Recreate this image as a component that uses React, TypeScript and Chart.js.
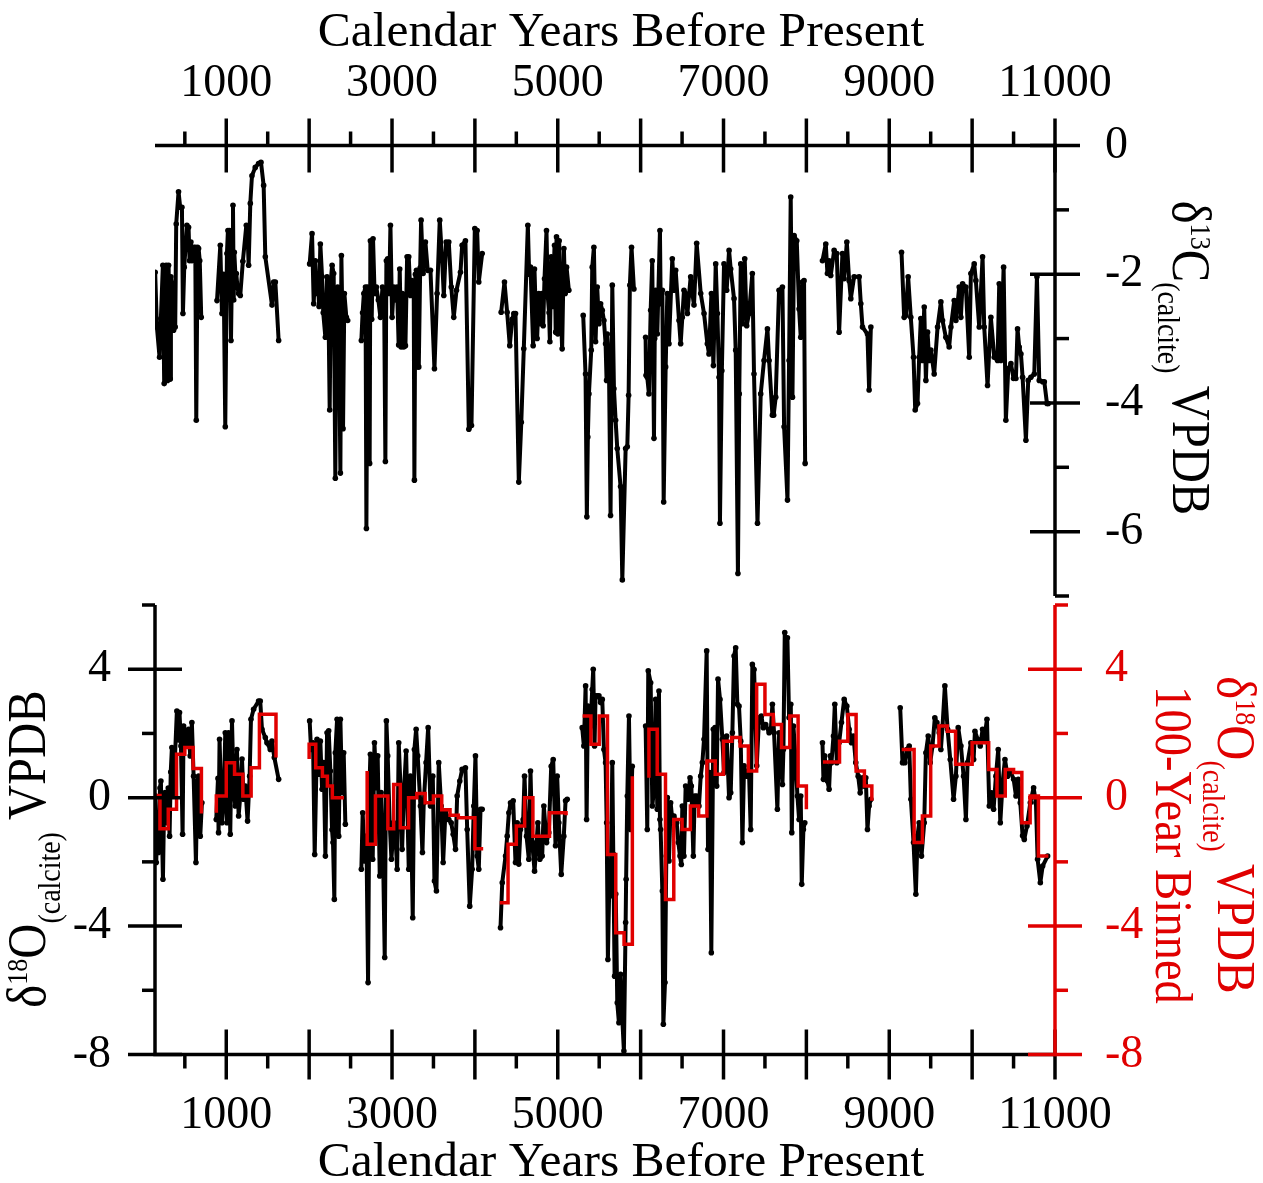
import React, { useEffect, useRef } from 'react';
import { Chart, registerables } from 'chart.js';

Chart.register(...registerables);

const W = 1263;
const H = 1183;
const FONT = '"Liberation Serif", "Times New Roman", serif';
const BLACK = '#000000';
const RED = '#e00000';

type Pt = [number, number];

// ---------- axes / ticks ----------
const X_MIN = 140;
const X_MAX = 11000;
const X_LABELS = [1000, 3000, 5000, 7000, 9000, 11000];
const X_MAJOR = [1000, 2000, 3000, 4000, 5000, 6000, 7000, 8000, 9000, 10000, 11000];
const X_MINOR = [500, 1500, 2500, 3500, 4500, 5500, 6500, 7500, 8500, 9500, 10500];
const C13_LABELS = [0, -2, -4, -6];
const C13_MINOR = [-1, -3, -5, -7];
const O18_LABELS = [4, 0, -4, -8];
const O18_MINOR = [6, 2, -2, -6];

// ---------- δ13C (top panel) ----------
const c13SegA: Pt[] = [[142,-1.97],[163,-2.82],[195,-3.29],[211,-2.69],[235,-1.86],[251,-3.70],[275,-1.86],[291,-3.65],[304,-1.86],[324,-3.63],[332,-2.04],[352,-2.20],[364,-2.87],[384,-2.82],[396,-1.22],[424,-0.72],[444,-0.96],[465,-0.96],[477,-2.61],[493,-1.89],[525,-1.24],[545,-1.27],[557,-1.79],[573,-1.50],[586,-1.79],[605,-1.58],[626,-1.58],[638,-4.27],[654,-1.58],[666,-1.60],[680,-1.79],[698,-2.67]];
const c13SegB: Pt[] = [[888,-2.41],[928,-1.55],[948,-2.61],[968,-2.0],[988,-4.37],[1008,-1.68],[1020,-1.32],[1030,-2.2],[1040,-1.32],[1057,-3.03],[1070,-1.8],[1081,-0.93],[1090,-2.4],[1097,-1.66],[1110,-2.0],[1121,-1.99],[1135,-2.2],[1149,-2.30],[1169,-2.33],[1200,-1.8],[1242,-1.24],[1255,-1.3],[1270,-1.86],[1290,-0.9],[1310,-0.47],[1350,-0.34],[1390,-0.28],[1419,-0.26],[1451,-0.62],[1471,-1.73],[1552,-2.48],[1572,-2.12],[1592,-2.12],[1632,-3.03]];
const c13SegC: Pt[] = [[2006,-1.84],[2035,-1.37],[2055,-2.46],[2075,-1.79],[2090,-2.3],[2103,-2.04],[2120,-2.5],[2135,-1.53],[2156,-2.04],[2170,-2.6],[2196,-2.98],[2216,-2.04],[2230,-2.2],[2248,-4.11],[2262,-2.1],[2277,-1.86],[2296,-1.99],[2316,-5.17],[2330,-2.4],[2344,-2.2],[2360,-2.8],[2377,-5.09],[2389,-1.71],[2400,-2.6],[2409,-4.40],[2425,-2.30],[2449,-2.67],[2465,-2.72]];
const c13SegD: Pt[] = [[2630,-3.03],[2645,-2.6],[2660,-2.3],[2680,-2.2],[2691,-5.95],[2705,-2.2],[2715,-2.5],[2730,-4.94],[2739,-1.48],[2755,-2.7],[2771,-1.45],[2790,-2.3],[2811,-2.20],[2835,-2.4],[2860,-2.67],[2885,-2.2],[2905,-2.4],[2920,-4.91],[2932,-1.79],[2948,-1.76],[2965,-2.3],[2981,-1.24],[3001,-2.67],[3021,-2.20],[3040,-2.4],[3061,-2.20],[3080,-3.1],[3093,-1.92],[3110,-3.13],[3125,-2.3],[3141,-3.13],[3162,-3.11],[3182,-1.73],[3202,-1.73],[3222,-2.33],[3240,-2.1],[3262,-2.25],[3270,-5.20],[3282,-2.0],[3295,-1.94],[3310,-3.44],[3323,-3.44],[3340,-1.9],[3351,-1.16],[3375,-1.99],[3403,-1.50],[3431,-1.94],[3464,-1.94],[3512,-3.47],[3544,-2.30],[3576,-1.16],[3605,-1.79],[3625,-2.33],[3653,-1.50],[3685,-1.50],[3715,-2.2],[3745,-2.67],[3778,-2.25],[3826,-1.97],[3846,-1.55],[3886,-1.48],[3927,-4.41],[3959,-4.35],[3999,-1.29],[4027,-1.32],[4047,-2.12],[4088,-1.68]];
const c13SegE: Pt[] = [[4317,-2.59],[4357,-2.12],[4389,-2.59],[4421,-3.11],[4450,-2.7],[4470,-2.61],[4490,-2.61],[4530,-5.23],[4560,-4.3],[4590,-3.16],[4639,-1.24],[4655,-2.0],[4671,-1.89],[4703,-3.11],[4719,-1.92],[4735,-2.6],[4751,-3.0],[4771,-2.30],[4792,-2.77],[4810,-2.3],[4824,-2.80],[4840,-2.07],[4864,-1.32],[4880,-2.35],[4895,-2.6],[4905,-3.05],[4921,-1.73],[4940,-2.5],[4961,-1.55],[4975,-2.9],[4985,-1.42],[5001,-2.93],[5017,-1.48],[5035,-2.5],[5053,-3.16],[5074,-1.60],[5090,-2.3],[5106,-1.89],[5134,-2.25]];
const c13SegF: Pt[] = [[5307,-2.64],[5335,-3.55],[5351,-5.77],[5363,-4.53],[5376,-3.86],[5404,-3.18],[5416,-1.89],[5436,-1.58],[5456,-3.05],[5476,-2.20],[5497,-2.77],[5517,-2.46],[5537,-2.56],[5557,-2.72],[5577,-3.08],[5589,-3.65],[5597,-2.93],[5617,-3.34],[5637,-5.75],[5658,-2.17],[5678,-3.78],[5698,-4.27],[5718,-4.71],[5758,-5.3],[5779,-6.75],[5819,-4.71],[5839,-4.68],[5855,-3.88],[5870,-2.17],[5890,-1.58],[5919,-2.23]];
const c13SegG: Pt[] = [[6060,-2.98],[6065,-3.57],[6080,-3.6],[6100,-3.86],[6121,-2.56],[6140,-1.79],[6161,-4.55],[6170,-3.0],[6181,-2.25],[6201,-2.93],[6233,-1.32],[6242,-2.46],[6262,-2.25],[6278,-5.54],[6302,-3.44],[6322,-2.30],[6342,-3.08],[6382,-1.76],[6402,-2.25],[6423,-1.94],[6463,-2.72],[6483,-3.08],[6503,-2.67],[6523,-2.25],[6543,-2.30],[6564,-2.61],[6604,-2.04],[6624,-2.30],[6644,-2.48],[6676,-1.52],[6725,-2.30],[6765,-2.61],[6805,-3.08],[6825,-3.24],[6854,-2.30],[6878,-3.42],[6906,-1.84],[6926,-2.61],[6946,-3.60],[6957,-5.87],[6980,-3.5],[7006,-1.84],[7038,-2.25],[7067,-1.63],[7087,-1.92],[7127,-2.38],[7147,-3.18],[7174,-6.65],[7190,-3.86],[7208,-1.84],[7228,-2.77],[7256,-1.76],[7280,-2.80],[7308,-2.61],[7348,-1.99],[7368,-3.55],[7410,-5.87],[7449,-3.86],[7489,-3.34],[7530,-2.85],[7550,-3.34],[7590,-4.19],[7605,-4.19],[7630,-3.91],[7670,-2.25],[7711,-2.20],[7731,-4.37],[7772,-5.51],[7791,-3.34],[7811,-0.80],[7832,-3.91],[7852,-1.40],[7884,-1.48],[7912,-2.54],[7932,-2.98],[7952,-2.12],[7972,-2.10],[7985,-4.94]];
const c13SegH: Pt[] = [[8194,-1.79],[8234,-1.53],[8254,-1.99],[8274,-1.79],[8294,-2.02],[8335,-1.63],[8367,-1.68],[8395,-2.90],[8435,-1.68],[8455,-2.07],[8488,-1.50],[8516,-2.10],[8536,-2.38],[8576,-2.04],[8637,-2.04],[8657,-2.46],[8677,-2.82],[8737,-2.93],[8757,-3.80],[8778,-2.82]];
const c13SegI: Pt[] = [[9148,-1.66],[9180,-2.67],[9200,-2.64],[9228,-2.04],[9260,-2.67],[9293,-3.29],[9313,-4.11],[9341,-4.01],[9361,-3.29],[9381,-2.69],[9402,-3.34],[9422,-2.51],[9442,-3.65],[9462,-2.90],[9482,-3.34],[9502,-3.18],[9542,-3.55],[9583,-2.82],[9623,-2.43],[9643,-2.72],[9683,-2.98],[9723,-3.13],[9744,-2.82],[9784,-2.41],[9804,-2.72],[9844,-2.20],[9864,-2.67],[9885,-2.15],[9925,-2.20],[9965,-3.29],[9985,-1.99],[10025,-1.84],[10045,-2.10],[10086,-2.82],[10126,-1.73],[10146,-2.82],[10186,-3.73],[10226,-2.67],[10267,-3.29],[10307,-3.34],[10327,-2.15],[10347,-3.34],[10380,-1.89],[10407,-4.27],[10436,-3.47],[10468,-3.39],[10500,-3.62],[10528,-3.62],[10548,-2.85],[10568,-3.13],[10589,-3.24],[10609,-3.60],[10649,-4.58],[10677,-3.65],[10709,-3.60],[10750,-3.55],[10782,-2.04],[10810,-3.65],[10851,-3.67],[10871,-3.67],[10903,-4.01],[10919,-4.01]];

// ---------- δ18O (bottom panel, black) ----------
const o18SegA: Pt[] = [[143,0.05],[155,-2.02],[170,-0.5],[183,-1.71],[200,0.3],[211,0.52],[236,-2.54],[250,-0.2],[263,0.16],[284,-0.78],[300,0.3],[316,-1.20],[330,0.8],[344,1.56],[364,0.05],[380,1.2],[404,2.70],[420,1.8],[436,2.65],[453,1.61],[473,-1.14],[485,2.23],[505,2.02],[525,1.61],[545,2.13],[565,1.30],[585,2.34],[606,0.67],[634,-2.02],[650,0.5],[666,0.67],[686,-1.20],[706,-0.16]];
const o18SegB: Pt[] = [[879,-0.68],[900,0.6],[907,-1.09],[919,1.82],[935,0.3],[948,-0.78],[968,-0.16],[988,2.02],[1000,0.5],[1008,-0.78],[1028,2.02],[1040,0.8],[1048,-1.14],[1069,2.39],[1089,0.26],[1109,-0.26],[1129,1.50],[1149,-0.57],[1169,0.05],[1190,1.2],[1209,-0.05],[1229,0.36],[1257,-0.73],[1282,0.67],[1298,2.44],[1330,2.75],[1390,3.01],[1410,3.01],[1431,2.13],[1471,1.87],[1491,1.71],[1531,1.50],[1551,1.76],[1580,1.25],[1632,0.57]];
const o18SegC: Pt[] = [[2006,2.39],[2023,1.50],[2047,1.71],[2067,-1.77],[2095,1.82],[2115,0.73],[2135,1.76],[2156,0.26],[2176,1.09],[2196,-1.82],[2216,2.02],[2236,2.08],[2256,0.83],[2276,-1.0],[2288,-1.40],[2304,-3.17],[2316,1.40],[2337,2.44],[2357,-1.2],[2377,2.44],[2397,0.16],[2417,1.40],[2437,-0.83]];
const o18SegD: Pt[] = [[2630,-2.23],[2646,-0.47],[2670,-1.97],[2691,-1.20],[2711,-5.76],[2727,0.26],[2739,1.35],[2767,-1.92],[2788,1.71],[2811,0.31],[2827,1.30],[2852,-2.44],[2868,0.16],[2892,-1.82],[2912,-4.98],[2932,2.39],[2948,1.30],[2972,-0.78],[2993,-1.92],[3021,-0.78],[3041,-1.20],[3062,-2.23],[3081,1.71],[3102,0.36],[3122,-1.61],[3141,0.05],[3170,1.45],[3202,-2.23],[3222,0.67],[3250,-3.74],[3270,1.50],[3291,2.13],[3310,1.30],[3343,-0.26],[3367,-1.71],[3383,-0.16],[3411,1.09],[3436,2.18],[3464,-0.26],[3492,0.67],[3512,-2.60],[3536,-2.91],[3564,1.09],[3593,-0.26],[3617,-2.02],[3645,-0.42],[3685,-0.68],[3714,-0.78],[3738,-1.14],[3766,-1.61],[3786,0.05],[3818,0.52],[3846,0.88],[3886,0.93],[3907,-0.99],[3938,-3.38],[3967,-2.23],[3987,-0.26],[4007,1.30],[4028,-1.82],[4047,-2.23],[4068,-0.36],[4088,-0.36]];
const o18SegE: Pt[] = [[4309,-4.05],[4330,-2.65],[4370,-1.82],[4390,-1.2],[4410,-0.47],[4430,-0.16],[4462,-0.10],[4490,-2.02],[4510,-0.78],[4530,-2.07],[4550,-0.99],[4583,-0.68],[4599,0.67],[4623,-1.20],[4651,-1.92],[4671,0.83],[4692,-1.40],[4720,-2.29],[4744,-1.40],[4760,-0.78],[4784,-1.92],[4812,-1.82],[4832,-0.26],[4865,-1.40],[4892,-1.09],[4921,0.98],[4945,1.19],[4973,-1.50],[4993,0.67],[5013,-0.78],[5042,-2.39],[5073,-1.20],[5094,-0.10],[5114,-0.05]];
const o18SegF: Pt[] = [[5295,2.18],[5315,1.61],[5336,3.48],[5348,-0.68],[5364,2.85],[5380,1.8],[5396,2.34],[5416,3.37],[5428,4.00],[5444,1.61],[5456,3.17],[5477,3.17],[5497,3.17],[5517,2.96],[5537,3.06],[5557,1.5],[5577,1.09],[5590,-0.78],[5605,-5.04],[5620,-2.96],[5637,-3.06],[5658,1.09],[5670,-1.76],[5686,-5.56],[5700,-3.0],[5718,-6.39],[5738,-7.01],[5758,-5.5],[5779,-6.9],[5798,-7.89],[5819,-3.89],[5825,-2.54],[5839,0.05],[5859,2.54],[5879,-0.99],[5899,0.98]];
const o18SegG: Pt[] = [[6060,2.23],[6080,-0.99],[6092,3.95],[6121,3.58],[6141,-0.26],[6161,0.26],[6181,3.06],[6201,-0.36],[6221,3.32],[6233,-0.68],[6241,-0.99],[6262,-2.91],[6274,-7.06],[6294,-5.76],[6310,-1.82],[6322,0.0],[6342,-1.97],[6362,-0.16],[6382,-0.68],[6402,-0.57],[6435,-0.78],[6455,-1.40],[6475,-1.82],[6491,-2.08],[6503,-0.26],[6523,-1.82],[6543,0.36],[6572,-0.05],[6596,0.62],[6612,0.36],[6636,-1.82],[6652,0.05],[6676,0.05],[6704,-0.26],[6725,0.67],[6745,1.09],[6765,1.82],[6797,4.57],[6813,-1.61],[6833,0.78],[6853,-4.83],[6877,2.13],[6898,2.18],[6918,0.36],[6934,3.69],[6958,3.06],[6986,1.82],[7006,0.78],[7038,1.92],[7067,0.0],[7087,0.15],[7107,2.02],[7127,4.41],[7147,4.67],[7167,2.91],[7187,2.85],[7208,1.76],[7228,-1.40],[7248,0.99],[7280,0.67],[7308,0.78],[7328,-0.99],[7348,4.15],[7369,3.99],[7401,0.99],[7429,2.49],[7457,2.54],[7481,2.18],[7509,2.28],[7550,2.02],[7570,2.07],[7590,2.91],[7610,2.02],[7650,-0.36],[7671,2.02],[7691,1.30],[7711,0.41],[7723,1.50],[7739,5.14],[7751,4.41],[7771,4.98],[7791,2.49],[7812,2.91],[7824,-1.09],[7844,2.23],[7872,1.09],[7892,0.05],[7912,-0.68],[7932,0.05],[7944,-2.70],[7964,-0.99],[7981,-0.78]];
const o18SegH: Pt[] = [[8194,1.71],[8206,0.57],[8220,1.3],[8234,0.99],[8254,0.52],[8274,0.26],[8290,1.3],[8303,1.09],[8327,1.92],[8343,2.91],[8367,1.09],[8380,1.8],[8395,1.71],[8423,2.34],[8456,3.06],[8488,2.85],[8516,2.13],[8544,1.71],[8568,1.92],[8596,1.09],[8625,0.67],[8649,0.15],[8677,0.62],[8697,0.36],[8717,0.62],[8737,-0.99],[8757,-0.26],[8778,-0.05]];
const o18SegI: Pt[] = [[9132,2.80],[9160,1.09],[9188,1.09],[9212,1.50],[9241,1.61],[9261,-0.05],[9293,-1.40],[9321,-3.01],[9341,-1.19],[9361,-0.78],[9389,-1.82],[9422,-0.78],[9442,1.40],[9470,1.92],[9494,1.09],[9522,1.61],[9550,2.49],[9575,2.34],[9603,2.02],[9623,1.50],[9643,2.23],[9671,3.48],[9704,2.13],[9736,1.19],[9776,-0.05],[9804,0.67],[9832,2.18],[9865,1.61],[9897,0.67],[9925,-0.68],[9945,1.09],[9985,1.71],[10018,1.19],[10034,2.07],[10066,1.82],[10098,1.61],[10126,2.13],[10146,1.82],[10179,2.44],[10207,-0.26],[10235,0.15],[10259,-0.36],[10287,0.67],[10315,1.50],[10340,-0.78],[10368,0.47],[10396,1.19],[10428,0.67],[10461,0.83],[10501,0.57],[10529,0.05],[10557,0.57],[10581,-0.16],[10609,-1.19],[10629,-1.30],[10662,-0.88],[10702,-0.16],[10742,0.31],[10770,-0.16],[10790,-1.92],[10823,-2.65],[10851,-2.13],[10911,-1.82]];

// ---------- δ18O 100-year binned (red, stepped; each point = bin start) ----------
const binSegA: Pt[] = [[140,0.07],[200,-0.97],[300,-0.36],[400,1.35],[500,1.56],[600,0.91],[700,-0.49]];
const binSegB: Pt[] = [[880,-0.47],[880,0.05],[1000,1.09],[1100,0.73],[1200,0.05],[1300,0.93],[1400,2.60],[1600,1.25]];
const binSegC: Pt[] = [[2000,1.20],[2000,1.66],[2080,0.93],[2160,0.67],[2220,0.36],[2280,0.0],[2420,0.0]];
const binSegD: Pt[] = [[2700,0.83],[2700,-1.45],[2800,0.05],[2950,-0.97],[3020,0.41],[3100,-0.94],[3200,0.0],[3300,0.13],[3400,-0.16],[3500,0.05],[3600,-0.38],[3700,-0.55],[3800,-0.63],[4000,-1.59],[4100,-1.59]];
const binSegE: Pt[] = [[4300,-3.27],[4400,-1.45],[4500,-0.88],[4600,0.0],[4700,-1.20],[4900,-0.47],[5100,-0.55]];
const binSegF: Pt[] = [[5300,2.54],[5400,1.66],[5500,2.54],[5600,-1.77],[5700,-4.21],[5800,-4.57],[5900,0.67]];
const binSegG: Pt[] = [[6100,0.62],[6100,2.13],[6200,0.73],[6300,-3.17],[6400,-0.68],[6500,-0.99],[6600,-0.26],[6700,-0.57],[6800,1.14],[6900,0.73],[7000,1.76],[7100,1.87],[7200,1.61],[7300,0.83],[7400,3.53],[7500,2.59],[7600,2.28],[7700,1.56],[7800,2.54],[7900,0.36],[8000,-0.36]];
const binSegH: Pt[] = [[8200,1.11],[8400,1.76],[8500,2.59],[8600,0.83],[8700,0.36],[8790,-0.1]];
const binSegI: Pt[] = [[9150,1.50],[9300,-1.40],[9400,-0.57],[9500,1.61],[9600,2.23],[9700,2.07],[9800,1.04],[10000,1.71],[10200,0.88],[10300,0.05],[10400,0.88],[10500,0.78],[10600,-0.78],[10700,0.05],[10800,-1.82],[10920,-1.82]];

const C13_SEGMENTS = [c13SegA, c13SegB, c13SegC, c13SegD, c13SegE, c13SegF, c13SegG, c13SegH, c13SegI];
const O18_SEGMENTS = [o18SegA, o18SegB, o18SegC, o18SegD, o18SegE, o18SegF, o18SegG, o18SegH, o18SegI];
const BIN_SEGMENTS = [binSegA, binSegB, binSegC, binSegD, binSegE, binSegF, binSegG, binSegH, binSegI];

// ---------- layout (pixel frame of the two panels) ----------
const AREA_LEFT = 155;
const AREA_RIGHT = 1055;
const TOP_AREA_TOP = 145.5;
const TOP_AREA_BOTTOM = 596;
const BOT_AREA_TOP = 605;
const BOT_AREA_BOTTOM = 1054.5;
const AXIS_W = 3.5;

function toSeries(segs: Pt[][]) {
  const out: { x: number; y: number | null }[] = [];
  segs.forEach((s, i) => {
    if (i > 0) {
      const prev = segs[i - 1];
      out.push({ x: (prev[prev.length - 1][0] + s[0][0]) / 2, y: null });
    }
    s.forEach(([x, y]) => out.push({ x, y }));
  });
  return out;
}

function seg(ctx: CanvasRenderingContext2D, x1: number, y1: number, x2: number, y2: number) {
  ctx.beginPath();
  ctx.moveTo(x1, y1);
  ctx.lineTo(x2, y2);
  ctx.stroke();
}

type Run = { t: string; s: number; dy: number };

function drawRich(
  ctx: CanvasRenderingContext2D,
  runs: Run[],
  bx: number,
  by: number,
  angle: number,
  along: number,
  color: string
) {
  ctx.save();
  ctx.translate(bx, by);
  ctx.rotate(angle);
  ctx.scale(along, 1);
  ctx.fillStyle = color;
  ctx.textBaseline = 'alphabetic';
  ctx.textAlign = 'left';
  let total = 0;
  for (const r of runs) {
    ctx.font = `${r.s}px ${FONT}`;
    total += ctx.measureText(r.t).width;
  }
  let x = -total / 2;
  for (const r of runs) {
    ctx.font = `${r.s}px ${FONT}`;
    ctx.fillText(r.t, x, r.dy);
    x += ctx.measureText(r.t).width;
  }
  ctx.restore();
}

const isoRuns = (mass: string, el: string): Run[] => [
  { t: 'δ', s: 54, dy: 0 },
  { t: mass, s: 29, dy: -18 },
  { t: el, s: 54, dy: 0 },
  { t: '(calcite)', s: 31, dy: 15 },
  { t: ' VPDB', s: 54, dy: 0 },
];

const topDeco = {
  id: 'topDeco',
  afterDraw(chart: any) {
    const { ctx, chartArea: a, scales } = chart;
    const xs = scales.x;
    const ys = scales.y;
    ctx.save();
    ctx.strokeStyle = BLACK;
    ctx.lineWidth = AXIS_W;
    ctx.lineCap = 'butt';
    seg(ctx, a.left, a.top, a.right + 1.75, a.top);
    seg(ctx, a.right, a.top - 1.75, a.right, a.bottom);
    X_MAJOR.forEach((v) => {
      const p = xs.getPixelForValue(v);
      seg(ctx, p, a.top - 27, p, a.top + 27);
    });
    X_MINOR.forEach((v) => {
      const p = xs.getPixelForValue(v);
      seg(ctx, p, a.top - 14, p, a.top);
    });
    C13_LABELS.forEach((v) => {
      const p = ys.getPixelForValue(v);
      seg(ctx, a.right - 25, p, a.right + 25, p);
    });
    C13_MINOR.forEach((v) => {
      const p = ys.getPixelForValue(v);
      seg(ctx, a.right, p, a.right + 14, p);
    });
    ctx.restore();
    drawRich(ctx, [{ t: 'Calendar Years Before Present', s: 49.5, dy: 0 }], 621, 46, 0, 1, BLACK);
    drawRich(ctx, isoRuns('13', 'C'), 1173, 358, Math.PI / 2, 0.9, BLACK);
  },
};

const bottomDeco = {
  id: 'bottomDeco',
  afterDraw(chart: any) {
    const { ctx, chartArea: a, scales } = chart;
    const xs = scales.x;
    const yl = scales.y;
    const yr = scales.y2;
    ctx.save();
    ctx.lineWidth = AXIS_W;
    ctx.lineCap = 'butt';
    ctx.strokeStyle = BLACK;
    seg(ctx, a.left - 1.75, a.bottom, a.right, a.bottom);
    seg(ctx, a.left, a.top, a.left, a.bottom);
    X_MAJOR.forEach((v) => {
      const p = xs.getPixelForValue(v);
      seg(ctx, p, a.bottom - 25, p, a.bottom + 25);
    });
    X_MINOR.forEach((v) => {
      const p = xs.getPixelForValue(v);
      seg(ctx, p, a.bottom, p, a.bottom + 14);
    });
    O18_LABELS.forEach((v) => {
      const p = yl.getPixelForValue(v);
      seg(ctx, a.left - 27, p, a.left + 27, p);
    });
    O18_MINOR.forEach((v) => {
      const p = yl.getPixelForValue(v);
      seg(ctx, a.left - 13, p, a.left, p);
    });
    ctx.strokeStyle = RED;
    seg(ctx, a.right, a.top, a.right, a.bottom + 1.75);
    O18_LABELS.forEach((v) => {
      const p = yr.getPixelForValue(v);
      seg(ctx, a.right - 27, p, a.right + 27, p);
    });
    O18_MINOR.forEach((v) => {
      const p = yr.getPixelForValue(v);
      seg(ctx, a.right, p, a.right + 13, p);
    });
    ctx.restore();
    drawRich(ctx, [{ t: 'Calendar Years Before Present', s: 49.5, dy: 0 }], 621, 1176, 0, 1, BLACK);
    drawRich(ctx, isoRuns('18', 'O'), 45, 849, -Math.PI / 2, 0.9, BLACK);
    drawRich(ctx, isoRuns('18', 'O'), 1218, 835, Math.PI / 2, 0.9, RED);
    drawRich(ctx, [{ t: '100-Year Binned', s: 53, dy: 0 }], 1156, 845, Math.PI / 2, 0.88, RED);
  },
};

const tickFont = { family: FONT, size: 46 };

function fixedTicks(values: number[]) {
  return (scale: any) => {
    scale.ticks = values.map((v) => ({ value: v }));
  };
}

export default function App() {
  const topRef = useRef<HTMLCanvasElement>(null);
  const botRef = useRef<HTMLCanvasElement>(null);

  useEffect(() => {
    if (!topRef.current || !botRef.current) return;

    const blackLine = {
      borderColor: BLACK,
      backgroundColor: BLACK,
      borderWidth: 4,
      borderJoinStyle: 'round',
      pointRadius: 2.8,
      pointBackgroundColor: BLACK,
      pointBorderWidth: 0,
      pointHoverRadius: 0,
      spanGaps: false,
      tension: 0,
    };

    const top = new Chart(topRef.current, {
      type: 'line',
      data: {
        datasets: [{ data: toSeries(C13_SEGMENTS), ...blackLine }],
      },
      options: {
        responsive: false,
        animation: false,
        events: [],
        layout: { padding: { left: AREA_LEFT, right: 0, top: 0, bottom: H - TOP_AREA_BOTTOM } },
        plugins: { legend: { display: false }, tooltip: { enabled: false } },
        scales: {
          x: {
            type: 'linear',
            position: 'top',
            min: X_MIN,
            max: X_MAX,
            grid: { display: false },
            border: { display: false },
            afterBuildTicks: fixedTicks(X_LABELS),
            afterFit: (s: any) => {
              s.height = TOP_AREA_TOP;
            },
            ticks: {
              autoSkip: false,
              maxRotation: 0,
              minRotation: 0,
              padding: 26,
              color: BLACK,
              font: tickFont,
              callback: (v: any) => String(v),
            },
          },
          y: {
            type: 'linear',
            position: 'right',
            min: -7,
            max: 0,
            grid: { display: false },
            border: { display: false },
            afterBuildTicks: fixedTicks(C13_LABELS),
            afterFit: (s: any) => {
              s.width = W - AREA_RIGHT;
            },
            ticks: {
              autoSkip: false,
              padding: 42,
              color: BLACK,
              font: tickFont,
              callback: (v: any) => String(v),
            },
          },
        },
      },
      plugins: [topDeco],
    } as any);

    const bottom = new Chart(botRef.current, {
      type: 'line',
      data: {
        datasets: [
          {
            data: toSeries(BIN_SEGMENTS),
            yAxisID: 'y2',
            borderColor: RED,
            borderWidth: 3.5,
            pointRadius: 0,
            pointHoverRadius: 0,
            stepped: true,
            spanGaps: false,
            tension: 0,
          },
          { data: toSeries(O18_SEGMENTS), yAxisID: 'y', ...blackLine },
        ],
      },
      options: {
        responsive: false,
        animation: false,
        events: [],
        layout: { padding: { left: 0, right: 0, top: BOT_AREA_TOP, bottom: 0 } },
        plugins: { legend: { display: false }, tooltip: { enabled: false } },
        scales: {
          x: {
            type: 'linear',
            position: 'bottom',
            min: X_MIN,
            max: X_MAX,
            grid: { display: false },
            border: { display: false },
            afterBuildTicks: fixedTicks(X_LABELS),
            afterFit: (s: any) => {
              s.height = H - BOT_AREA_BOTTOM;
            },
            ticks: {
              autoSkip: false,
              maxRotation: 0,
              minRotation: 0,
              padding: 26,
              color: BLACK,
              font: tickFont,
              callback: (v: any) => String(v),
            },
          },
          y: {
            type: 'linear',
            position: 'left',
            min: -8,
            max: 6,
            grid: { display: false },
            border: { display: false },
            afterBuildTicks: fixedTicks(O18_LABELS),
            afterFit: (s: any) => {
              s.width = AREA_LEFT;
            },
            ticks: {
              autoSkip: false,
              padding: 36,
              color: BLACK,
              font: tickFont,
              callback: (v: any) => String(v),
            },
          },
          y2: {
            type: 'linear',
            position: 'right',
            min: -8,
            max: 6,
            grid: { display: false },
            border: { display: false },
            afterBuildTicks: fixedTicks(O18_LABELS),
            afterFit: (s: any) => {
              s.width = W - AREA_RIGHT;
            },
            ticks: {
              autoSkip: false,
              padding: 42,
              color: RED,
              font: tickFont,
              callback: (v: any) => String(v),
            },
          },
        },
      },
      plugins: [bottomDeco],
    } as any);

    return () => {
      top.destroy();
      bottom.destroy();
    };
  }, []);

  const canvasStyle: React.CSSProperties = { position: 'absolute', left: 0, top: 0, width: W, height: H };

  return (
    <div style={{ position: 'absolute', left: 0, top: 0, width: W, height: H, background: '#ffffff', overflow: 'hidden' }}>
      <canvas ref={topRef} width={W} height={H} style={canvasStyle} />
      <canvas ref={botRef} width={W} height={H} style={canvasStyle} />
    </div>
  );
}
